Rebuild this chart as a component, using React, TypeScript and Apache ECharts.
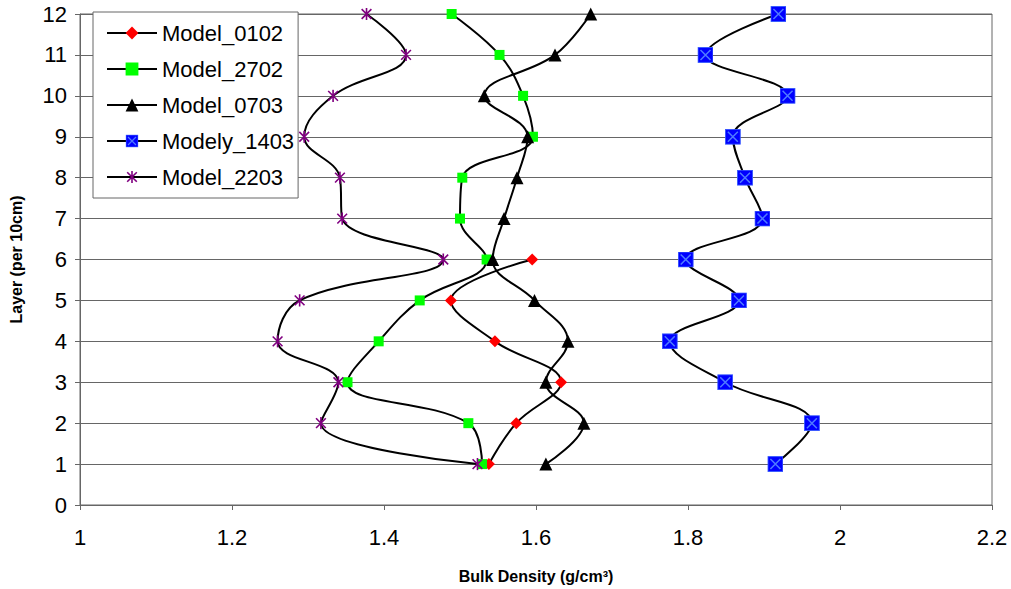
import { useEffect, useRef } from "react";
import * as echarts from "echarts";

const layers = [1, 2, 3, 4, 5, 6, 7, 8, 9, 10, 11, 12];
const xTicks = [1, 1.2, 1.4, 1.6, 1.8, 2, 2.2];
const model0102 = [1.538, 1.574, 1.633, 1.546, 1.488, 1.595];
const model2702 = [1.529, 1.511, 1.352, 1.393, 1.447, 1.535, 1.5, 1.503, 1.596, 1.583, 1.552, 1.489];
const model0703 = [1.613, 1.663, 1.613, 1.642, 1.598, 1.543, 1.558, 1.575, 1.589, 1.532, 1.625, 1.672];
const modely1403 = [1.915, 1.963, 1.849, 1.776, 1.867, 1.797, 1.898, 1.875, 1.859, 1.931, 1.823, 1.919];
const model2203 = [1.523, 1.317, 1.34, 1.26, 1.289, 1.478, 1.345, 1.342, 1.295, 1.333, 1.429, 1.377];

const svgUri = (svg: string) => "image://data:image/svg+xml;utf8," + encodeURIComponent(svg);

const blueXSquare = svgUri(
  '<svg xmlns="http://www.w3.org/2000/svg" width="32" height="32" viewBox="0 0 32 32">' +
    '<rect x="1" y="1" width="30" height="30" fill="#0000ff" stroke="#3a5cff" stroke-width="2"/>' +
    '<path d="M6 6 L26 26 M26 6 L6 26" stroke="#4f7bff" stroke-width="3"/>' +
    "</svg>"
);
const purpleStar = svgUri(
  '<svg xmlns="http://www.w3.org/2000/svg" width="32" height="32" viewBox="0 0 32 32">' +
    '<path d="M4 4 L28 28 M28 4 L4 28 M16 1 L16 31" stroke="#800080" stroke-width="4"/>' +
    "</svg>"
);

const pair = (vals: number[]) => vals.map((v, i) => [v, layers[i]]);

export default function App() {
  const ref = useRef<HTMLDivElement>(null);
  useEffect(() => {
    if (!ref.current) return;
    const chart = echarts.init(ref.current, null, { renderer: "svg" });
    const font = "Arial, 'Liberation Sans', sans-serif";
    const lineSeries = (name: string, vals: number[], symbol: string, size: number, color: string) => ({
      name,
      type: "line",
      data: pair(vals),
      smooth: 0.4,
      symbol,
      symbolSize: size,
      symbolKeepAspect: true,
      showAllSymbol: true,
      lineStyle: { color: "#000", width: 2 },
      itemStyle: { color, borderWidth: 0 },
      emphasis: { disabled: true },
    });
    chart.setOption({
      animation: false,
      backgroundColor: "#fff",
      textStyle: { fontFamily: font, color: "#000" },
      grid: {
        left: 76,
        right: 19,
        top: 14,
        bottom: 81,
        show: true,
        borderColor: "#666",
        borderWidth: 1,
        backgroundColor: "transparent",
      },
      legend: {
        orient: "vertical",
        left: 93,
        top: 12,
        padding: [10, 4, 10, 13],
        backgroundColor: "#fff",
        borderColor: "#666",
        borderWidth: 1,
        itemWidth: 50,
        itemHeight: 16,
        itemGap: 14,
        textStyle: { fontSize: 22, fontFamily: font, color: "#000", lineHeight: 22 },
        data: ["Model_0102", "Model_2702", "Model_0703", "Modely_1403", "Model_2203"],
      },
      xAxis: {
        type: "value",
        min: xTicks[0],
        max: xTicks[xTicks.length - 1],
        interval: 0.2,
        name: "Bulk Density (g/cm³)",
        nameLocation: "middle",
        nameGap: 63,
        nameTextStyle: { fontSize: 16, fontWeight: "bold", color: "#000", fontFamily: font },
        axisLine: { show: true, lineStyle: { color: "#666", width: 1 } },
        axisTick: { show: true, length: 5, lineStyle: { color: "#666" } },
        axisLabel: {
          fontSize: 22,
          color: "#000",
          margin: 21,
          formatter: (v: number) => String(+v.toFixed(1)),
        },
        splitLine: { show: false },
      },
      yAxis: {
        type: "value",
        min: 0,
        max: 12,
        interval: 1,
        name: "Layer (per 10cm)",
        nameLocation: "middle",
        nameGap: 56,
        nameRotate: 90,
        nameTextStyle: { fontSize: 16, fontWeight: "bold", color: "#000", fontFamily: font },
        axisLine: { show: true, lineStyle: { color: "#666", width: 1 } },
        axisTick: { show: true, length: 5, lineStyle: { color: "#666" } },
        axisLabel: { fontSize: 22, color: "#000", margin: 13 },
        splitLine: { show: true, lineStyle: { color: "#666", width: 1 } },
      },
      series: [
        lineSeries("Model_0102", model0102, "diamond", 12, "#ff0000"),
        lineSeries("Model_2702", model2702, "rect", 10, "#00ff00"),
        lineSeries("Model_0703", model0703, "triangle", 13, "#000000"),
        lineSeries("Modely_1403", modely1403, blueXSquare, 16, "#0000ff"),
        lineSeries("Model_2203", model2203, purpleStar, 13, "#800080"),
      ],
    });
    return () => chart.dispose();
  }, []);
  return (
    <div
      ref={ref}
      style={{ position: "fixed", left: 0, top: 0, width: 1011, height: 589, background: "#fff" }}
    />
  );
}
